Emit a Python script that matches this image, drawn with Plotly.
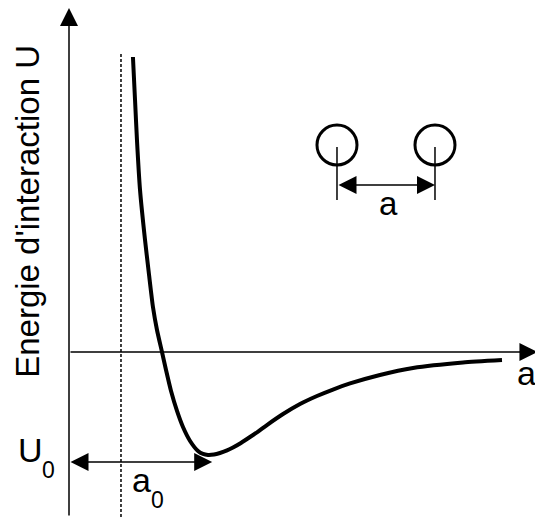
import plotly.graph_objects as go

# --- data (a: interatomic distance, U: interaction energy, schematic units) ---
curve_a = [0.460, 0.475, 0.489, 0.511, 0.547, 0.576, 0.604, 0.633, 0.669, 0.698,
           0.734, 0.777, 0.820, 0.871, 0.928, 0.964, 1.000, 1.043, 1.086, 1.137,
           1.180, 1.237, 1.302, 1.360, 1.424, 1.540, 1.662, 1.784, 1.899, 2.022,
           2.237, 2.475, 2.835, 3.115]
curve_U = [2.682, 2.291, 1.927, 1.473, 1.018, 0.700, 0.409, 0.200, 0.000, -0.164,
           -0.355, -0.536, -0.682, -0.809, -0.900, -0.927, -0.936, -0.932, -0.918, -0.895,
           -0.868, -0.827, -0.773, -0.723, -0.664, -0.564, -0.473, -0.400, -0.341, -0.286,
           -0.209, -0.145, -0.095, -0.073]

a0 = 1.03          # equilibrium distance (arrow length)
U0 = -1.0          # depth of the well
a_core = 0.374     # dotted hard-core limit
atom_a = [1.928, 2.633]   # the two atoms in the inset
atom_U = [1.882, 1.882]

x_range = [-0.4964, 3.3525]
y_range = [-1.5, 3.2]

FONT = "Liberation Sans, Arial, Helvetica, sans-serif"
BLACK = "#000000"

fig = go.Figure()

# potential curve
fig.add_trace(go.Scatter(x=curve_a, y=curve_U, mode="lines",
                         line=dict(color=BLACK, width=4, shape="spline", smoothing=0.5),
                         hoverinfo="skip", showlegend=False))

# atoms
fig.add_trace(go.Scatter(x=atom_a, y=atom_U, mode="markers",
                         marker=dict(symbol="circle-open", size=40,
                                     line=dict(color=BLACK, width=3), color=BLACK),
                         hoverinfo="skip", showlegend=False))

shapes = []
# dotted vertical line
shapes.append(dict(type="line", x0=a_core, x1=a_core, y0=y_range[0], y1=2.727,
                   line=dict(color=BLACK, width=1.5, dash="3px,2px")))
# ticks below atoms
for xa in atom_a:
    shapes.append(dict(type="line", x0=xa, x1=xa, y0=1.864, y1=1.382,
                       line=dict(color=BLACK, width=1.5)))

annotations = []

def arrow(x_tip, y_tip, x_tail, y_tail, both=False):
    return dict(x=x_tip, y=y_tip, ax=x_tail, ay=y_tail, xref="x", yref="y",
                axref="x", ayref="y", text="", showarrow=True,
                arrowhead=2, startarrowhead=2, arrowsize=2.4, startarrowsize=2.4,
                arrowwidth=1.5, arrowcolor=BLACK,
                arrowside="end+start" if both else "end")

# axes
annotations.append(arrow(0, 3.127, 0, y_range[0]))
annotations.append(arrow(3.37, 0, 0, 0))
# U0 / a0 arrow
annotations.append(arrow(a0, U0, 0, U0, both=True))
# inset distance arrow
annotations.append(arrow(atom_a[1], 1.518, atom_a[0], 1.518, both=True))

def label(text, x, y, size, xanchor="center", yanchor="middle", angle=0):
    return dict(text=text, x=x, y=y, xref="x", yref="y", showarrow=False,
                xanchor=xanchor, yanchor=yanchor, textangle=angle,
                font=dict(family=FONT, size=size, color=BLACK))

annotations.append(label("Energie d'interaction U", -0.300, 1.277, 33, angle=-90))
# U0 (main letter + lowered subscript)
annotations.append(label("U", -0.274, -0.891, 34))
annotations.append(label("0", -0.150, -1.072, 23))
# a0
annotations.append(label("a", 0.518, -1.166, 34))
annotations.append(label("0", 0.640, -1.345, 23))
# axis name and inset distance
annotations.append(label("a", 3.288, -0.190, 34))
annotations.append(label("a", 2.299, 1.352, 33))

fig.update_layout(
    width=535, height=517, margin=dict(l=0, r=0, t=0, b=0),
    paper_bgcolor="white", plot_bgcolor="white",
    xaxis=dict(range=x_range, visible=False, fixedrange=True),
    yaxis=dict(range=y_range, visible=False, fixedrange=True),
    shapes=shapes, annotations=annotations, showlegend=False,
)

fig.write_html("out.html")
